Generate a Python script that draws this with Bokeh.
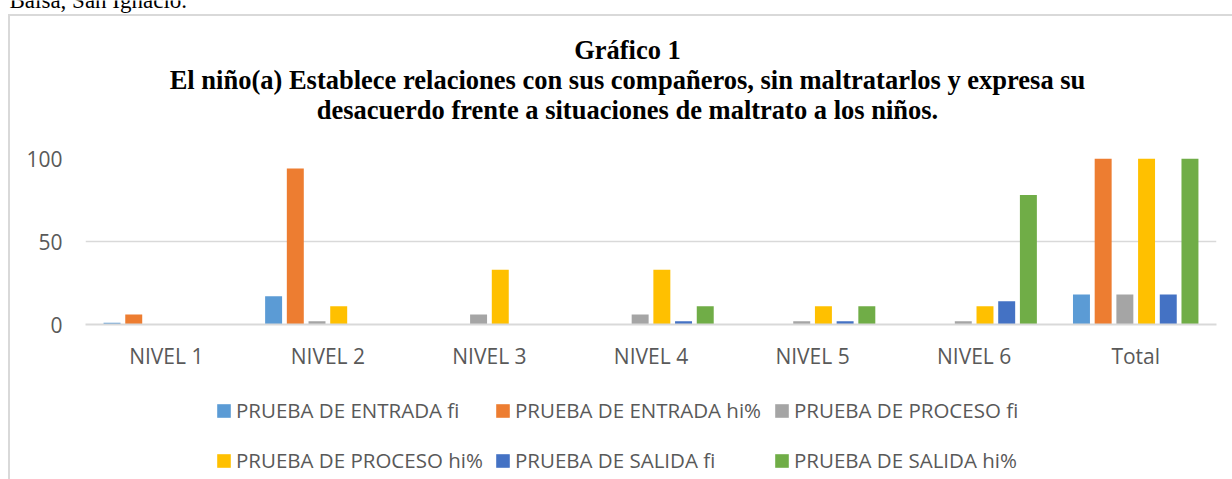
from bokeh.plotting import figure
from bokeh.layouts import column
from bokeh.models import (ColumnDataSource, FactorRange, Range1d, FixedTicker,
                          Label, Legend, LegendItem)
from bokeh.transform import dodge
from bokeh.embed import file_html
from bokeh.resources import INLINE

# ---------------- data ----------------
categories = ["NIVEL 1", "NIVEL 2", "NIVEL 3", "NIVEL 4", "NIVEL 5", "NIVEL 6", "Total"]
entrada_fi = [1, 17, 0, 0, 0, 0, 18]
entrada_hi = [6, 94, 0, 0, 0, 0, 100]
proceso_fi = [0, 2, 6, 6, 2, 2, 18]
proceso_hi = [0, 11, 33, 33, 11, 11, 100]
salida_fi = [0, 0, 0, 2, 2, 14, 18]
salida_hi = [0, 0, 0, 11, 11, 78, 100]
series_names = ["PRUEBA DE ENTRADA fi", "PRUEBA DE ENTRADA hi%", "PRUEBA DE PROCESO fi",
                "PRUEBA DE PROCESO hi%", "PRUEBA DE SALIDA fi", "PRUEBA DE SALIDA hi%"]
y_ticks = [0, 50, 100]
title_lines = ["Gráfico 1",
               "El niño(a) Establece relaciones con sus compañeros, sin maltratarlos y expresa su",
               "desacuerdo frente a situaciones de maltrato a los niños."]
header_text = "Balsa, San Ignacio."

# ---------------- style ----------------
colors = ["#5B9BD5", "#ED7D31", "#A5A5A5", "#FFC000", "#4472C4", "#70AD47"]
cols = ["ef", "eh", "pf", "ph", "sf", "sh"]
GRID = "#D9D9D9"
TXT = "#595959"
W = 1232
TOP_H = 130
MAIN_H = 250
LEG_H = 479 - TOP_H - MAIN_H
FRAME_TOP = 158 - TOP_H
VLINE = "linear-gradient(#D9D9D9, #D9D9D9) 8px {y}px / 2px 100% no-repeat"
HLINE = "linear-gradient(#D9D9D9, #D9D9D9) 8px 14px / 100% 2px no-repeat"


def blank_figure(h):
    f = figure(width=W, height=h, x_range=Range1d(0, W), y_range=Range1d(h, 0),
               output_backend="svg", toolbar_location=None,
               x_axis_location=None, y_axis_location=None,
               min_border=0, min_border_left=0, min_border_right=0,
               min_border_top=0, min_border_bottom=0)
    f.frame_align = False
    f.grid.visible = False
    f.outline_line_color = None
    f.background_fill_color = None
    f.border_fill_color = None
    return f


# ---------------- top: header, title, chart-area border ----------------
top = blank_figure(TOP_H)
top.styles = {"background": VLINE.format(y=14) + ", " + HLINE + ", #FFFFFF"}
top.add_layout(Label(x=9, y=0, text=header_text, text_align="left",
                     text_baseline="middle", text_font="Liberation Serif",
                     text_font_size="23px", text_color="black"))
for t, yy in zip(title_lines, [49, 79, 109]):
    top.add_layout(Label(x=627, y=yy, text=t, text_align="center", text_baseline="middle",
                         text_font="Liberation Serif", text_font_style="bold",
                         text_font_size="26.5px", text_color="black"))

# ---------------- main chart ----------------
source = ColumnDataSource(dict(cat=categories, ef=entrada_fi, eh=entrada_hi,
                               pf=proceso_fi, ph=proceso_hi, sf=salida_fi, sh=salida_hi))

p = figure(x_range=FactorRange(*categories), y_range=Range1d(0, 100),
           width=W, height=MAIN_H, output_backend="svg", toolbar_location=None,
           min_border_left=85, min_border_right=16, min_border_top=FRAME_TOP,
           min_border_bottom=MAIN_H - FRAME_TOP - 166)
p.frame_align = False
p.outline_line_color = None
p.background_fill_color = None
p.border_fill_color = None
p.styles = {"background": VLINE.format(y=0) + ", #FFFFFF"}

p.xgrid.grid_line_color = None
p.ygrid.ticker = FixedTicker(ticks=y_ticks)
p.ygrid.grid_line_color = GRID
p.ygrid.grid_line_width = 1.5

p.yaxis.ticker = FixedTicker(ticks=y_ticks)
p.yaxis.axis_line_color = None
p.yaxis.major_tick_line_color = None
p.yaxis.minor_tick_line_color = None
p.yaxis.major_tick_out = 0
p.yaxis.major_tick_in = 0
p.yaxis.major_label_text_font = "Open Sans"
p.yaxis.major_label_text_font_size = "21px"
p.yaxis.major_label_text_color = TXT
p.yaxis.major_label_standoff = 23

p.xaxis.axis_line_color = GRID
p.xaxis.axis_line_width = 2
p.xaxis.major_tick_line_color = None
p.xaxis.minor_tick_line_color = None
p.xaxis.major_tick_out = 0
p.xaxis.major_tick_in = 0
p.xaxis.major_label_text_font = "Open Sans"
p.xaxis.major_label_text_font_size = "21px"
p.xaxis.major_label_text_color = TXT
p.xaxis.major_label_standoff = 17

for i, c in enumerate(cols):
    p.vbar(x=dodge("cat", (i - 2.5) * 0.1343, range=p.x_range), top=c, width=0.105,
           source=source, fill_color=colors[i], line_color=None)

# ---------------- legend strip ----------------
leg = blank_figure(LEG_H)
leg.styles = {"background": VLINE.format(y=0) + ", #FFFFFF"}
# hidden copies of the series, only used to draw the legend swatches
swatches = [leg.vbar(x=0, top=c, width=1, source=source, fill_color=colors[i],
                     line_color=None, visible=False)
            for i, c in enumerate(cols)]
for row, vy in enumerate([55, 5]):
    items = [LegendItem(label=series_names[row * 3 + k], renderers=[swatches[row * 3 + k]])
             for k in range(3)]
    lg = Legend(items=items, location=(215, vy), orientation="horizontal",
                glyph_width=17, glyph_height=17, label_standoff=4, spacing=9,
                padding=0, margin=0, border_line_color=None, background_fill_alpha=0,
                label_text_font="Open Sans", label_text_font_size="20.5px",
                label_text_color=TXT, label_height=20, label_width=249)
    leg.add_layout(lg, "center")

layout = column(top, p, leg, spacing=0)
open("out.html", "w").write(file_html(layout, INLINE))
